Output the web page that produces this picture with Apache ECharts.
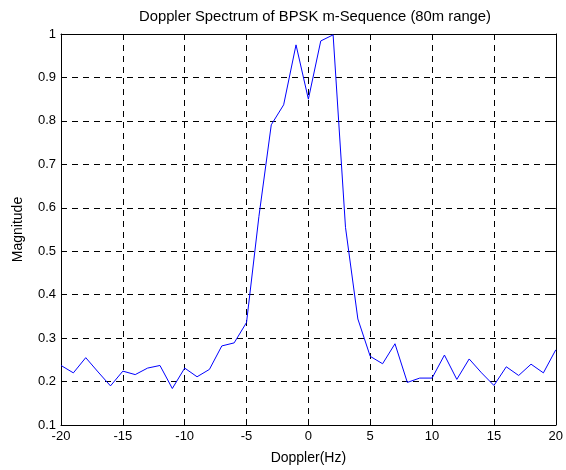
<!DOCTYPE html>
<html>
<head>
<meta charset="utf-8">
<script src="https://cdn.jsdelivr.net/npm/echarts@6/dist/echarts.min.js"></script>
<style>
  html, body { margin: 0; padding: 0; background: #fff; }
  #chart { width: 566px; height: 470px; }
</style>
</head>
<body>
<div id="chart"></div>
<script>
// Doppler bins (Hz)
const dopplerHz = [-20,-19,-18,-17,-16,-15,-14,-13,-12,-11,-10,-9,-8,-7,-6,-5,-4,-3,-2,-1,
  0,1,2,3,4,5,6,7,8,9,10,11,12,13,14,15,16,17,18,19,20];
// Normalised spectrum magnitude per bin
const magnitude = [0.237,0.220,0.255,0.222,0.190,0.224,0.216,0.231,0.237,0.184,0.231,0.211,0.228,0.282,0.289,0.336,0.580,0.791,0.837,0.975,
  0.850,0.984,0.998,0.555,0.344,0.258,0.241,0.287,0.198,0.208,0.208,0.261,0.205,0.252,0.220,0.191,0.234,0.214,0.240,0.220,0.273];

const xTicks = [-20,-15,-10,-5,0,5,10,15,20];
const yTicks = [0.1,0.2,0.3,0.4,0.5,0.6,0.7,0.8,0.9,1];

const FONT = 'Liberation Sans, Arial, sans-serif';
const lineBlack = { color: '#000', width: 1 };
const gridDash = { color: '#000', width: 1, type: [6, 5] };

const chart = echarts.init(document.getElementById('chart'), null, { renderer: 'canvas' });

const fmtY = v => String(Math.round(v * 10) / 10);

chart.setOption({
  animation: false,
  title: {
    text: 'Doppler Spectrum of BPSK m-Sequence (80m range)',
    left: 310, top: 4, textAlign: 'center',
    textStyle: { fontFamily: FONT, fontSize: 14.8, fontWeight: 'normal', color: '#000' }
  },
  grid: { left: 61, top: 34, width: 498, height: 392, containLabel: false },
  xAxis: [{
    type: 'value', min: -20, max: 20, interval: 5,
    name: 'Doppler(Hz)', nameLocation: 'middle', nameGap: 26,
    nameTextStyle: { fontFamily: FONT, fontSize: 14, color: '#000' },
    axisLine: { lineStyle: lineBlack, onZero: false },
    axisTick: { inside: true, length: 5, lineStyle: lineBlack },
    axisLabel: { fontFamily: FONT, fontSize: 13, color: '#000', margin: 5 },
    splitLine: { show: true, lineStyle: gridDash }
  }, {
    type: 'value', position: 'top', min: -20, max: 20, interval: 5,
    axisLine: { show: true, lineStyle: lineBlack, onZero: false },
    axisTick: { inside: true, length: 5, lineStyle: lineBlack },
    axisLabel: { show: false }, splitLine: { show: false }
  }],
  yAxis: [{
    type: 'value', min: 0.1, max: 1, interval: 0.1,
    name: 'Magnitude', nameLocation: 'middle', nameGap: 36, nameRotate: 90,
    nameTextStyle: { fontFamily: FONT, fontSize: 14, color: '#000' },
    axisLine: { show: true, lineStyle: lineBlack, onZero: false },
    axisTick: { inside: true, length: 5, lineStyle: lineBlack },
    axisLabel: { fontFamily: FONT, fontSize: 13, color: '#000', margin: 5, formatter: fmtY },
    splitLine: { show: true, lineStyle: gridDash }
  }, {
    type: 'value', position: 'right', min: 0.1, max: 1, interval: 0.1,
    axisLine: { show: true, lineStyle: lineBlack, onZero: false },
    axisTick: { inside: true, length: 5, lineStyle: lineBlack },
    axisLabel: { show: false }, splitLine: { show: false }
  }],
  series: [{
    type: 'line',
    data: dopplerHz.map((x, i) => [x, magnitude[i]]),
    showSymbol: false,
    lineStyle: { color: '#0000ff', width: 1 },
    itemStyle: { color: '#0000ff' }
  }]
});
</script>
</body>
</html>
